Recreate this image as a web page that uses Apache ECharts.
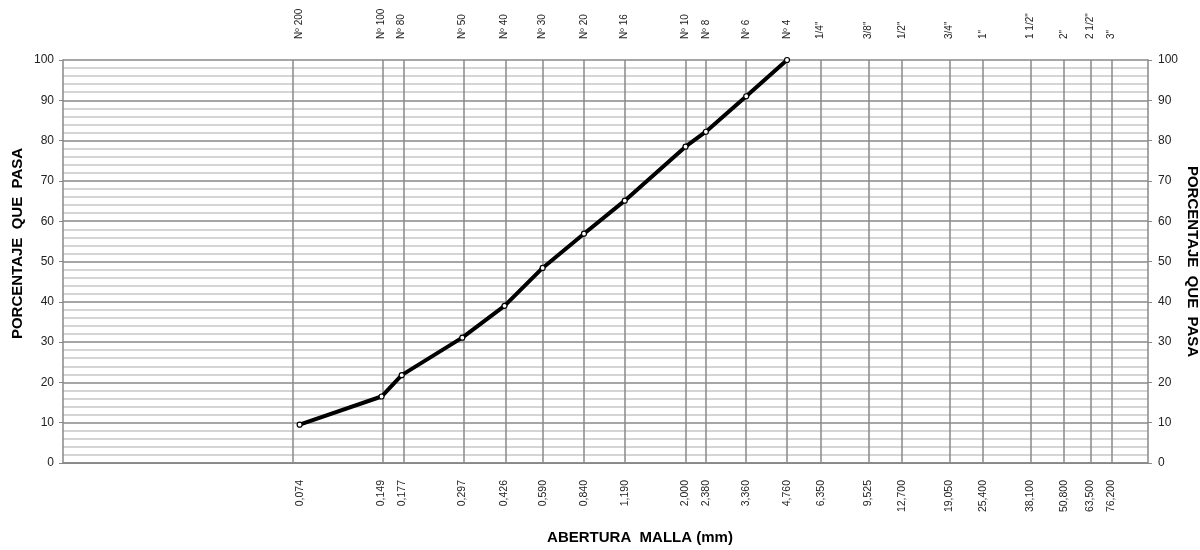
<!DOCTYPE html>
<html>
<head>
<meta charset="utf-8">
<script src="https://cdn.jsdelivr.net/npm/echarts@6/dist/echarts.min.js"></script>
<style>html,body{margin:0;padding:0;background:#fff}#c{width:1200px;height:550px}</style>
</head>
<body>
<div id="c"></div>
<script>
// Sieve openings (mm) and their names
const sieveSizes = [0.074, 0.149, 0.177, 0.297, 0.426, 0.590, 0.840, 1.190, 2.000, 2.380, 3.360, 4.760, 6.350, 9.525, 12.700, 19.050, 25.400, 38.100, 50.800, 63.500, 76.200];
const sieveNames = ['Nº 200', 'Nº 100', 'Nº 80', 'Nº 50', 'Nº 40', 'Nº 30', 'Nº 20', 'Nº 16', 'Nº 10', 'Nº 8', 'Nº 6', 'Nº 4', '1/4"', '3/8"', '1/2"', '3/4"', '1"', '1 1/2"', '2"', '2 1/2"', '3"'];
// Gradation curve
const curveSizes = [0.074, 0.149, 0.177, 0.297, 0.426, 0.590, 0.840, 1.190, 2.000, 2.380, 3.360, 4.760];
const percentPassing = [9.5, 16.5, 21.8, 31.1, 39.0, 48.4, 56.9, 65.1, 78.5, 82.2, 91.0, 100];
// Axis range (mm)
const xMin = 0.0098, xMax = 104;

const FONT = 'Liberation Sans, Arial, sans-serif';
const nameOf = v => {
  let best = 0, d = Infinity;
  sieveSizes.forEach((s, i) => { const dd = Math.abs(Math.log(s) - Math.log(v)); if (dd < d) { d = dd; best = i; } });
  return sieveNames[best];
};
const fmt = v => v.toFixed(3).replace('.', ',');

const chart = echarts.init(document.getElementById('c'));
chart.setOption({
  animation: false,
  backgroundColor: '#fff',
  grid: { left: 63, right: 52, top: 60, bottom: 87, show: false, containLabel: false, outerBoundsMode: 'none' },
  title: {
    text: 'ABERTURA  MALLA (mm)',
    left: 635, top: 525, textAlign: 'center',
    textStyle: { fontFamily: FONT, fontSize: 15, fontWeight: 'bold', color: '#000' }
  },
  xAxis: [{
    type: 'log', logBase: 10, min: xMin, max: xMax, position: 'bottom',
    axisLine: { show: true, lineStyle: { color: '#888', width: 1 } },
    axisTick: { show: false },
    splitLine: { show: false },
    axisLabel: {
      customValues: sieveSizes, rotate: 90, margin: 17,
      fontFamily: FONT, fontSize: 10.5, color: '#222',
      formatter: v => fmt(v)
    }
  }, {
    type: 'log', logBase: 10, min: xMin, max: xMax, position: 'top',
    axisLine: { show: true, lineStyle: { color: '#888', width: 1.5 } },
    axisTick: { show: false },
    splitLine: { show: false },
    axisLabel: {
      customValues: sieveSizes, rotate: 90, margin: 21,
      fontFamily: FONT, fontSize: 10, color: '#222',
      formatter: v => nameOf(v)
    }
  }],
  yAxis: [{
    type: 'value', min: 0, max: 100, interval: 10, position: 'left',
    name: 'PORCENTAJE  QUE  PASA', nameLocation: 'middle', nameGap: 38, nameRotate: 90,
    nameMoveOverlap: false,
    nameTextStyle: { fontFamily: FONT, fontSize: 15, fontWeight: 'bold', color: '#000', padding: [0, 0, 0, 36] },
    axisLine: { show: true, lineStyle: { color: '#888', width: 1.5 } },
    axisTick: { show: true, length: 4, lineStyle: { color: '#888' } },
    axisLabel: { fontFamily: FONT, fontSize: 12, color: '#222', margin: 9 },
    splitLine: { show: true, lineStyle: { color: '#888', width: 1.5 } },
    minorTick: { show: false, splitNumber: 5 },
    minorSplitLine: { show: true, lineStyle: { color: '#c8c8c8', width: 1.5 } }
  }, {
    type: 'value', min: 0, max: 100, interval: 10, position: 'right',
    name: 'PORCENTAJE  QUE  PASA', nameLocation: 'middle', nameGap: 37, nameRotate: -90,
    nameMoveOverlap: false,
    nameTextStyle: { fontFamily: FONT, fontSize: 15, fontWeight: 'bold', color: '#000' },
    axisLine: { show: true, lineStyle: { color: '#888', width: 1.5 } },
    axisTick: { show: true, length: 4, lineStyle: { color: '#888' } },
    axisLabel: { fontFamily: FONT, fontSize: 12, color: '#222', margin: 10 },
    splitLine: { show: false }
  }],
  series: [{
    type: 'line',
    xAxisIndex: 0, yAxisIndex: 0,
    data: [],
    silent: true,
    markLine: {
      silent: true, symbol: 'none', animation: false,
      label: { show: false },
      lineStyle: { color: '#888', width: 1.5, type: 'solid' },
      data: sieveSizes.map(s => ({ xAxis: s }))
    }
  }, {
    type: 'line',
    xAxisIndex: 0, yAxisIndex: 0,
    data: curveSizes.map((s, i) => [s, percentPassing[i]]),
    lineStyle: { color: '#000', width: 4 },
    symbol: 'circle', symbolSize: 5,
    itemStyle: { color: '#fff', borderColor: '#000', borderWidth: 1.2 },
    z: 5
  }]
});
</script>
</body>
</html>
